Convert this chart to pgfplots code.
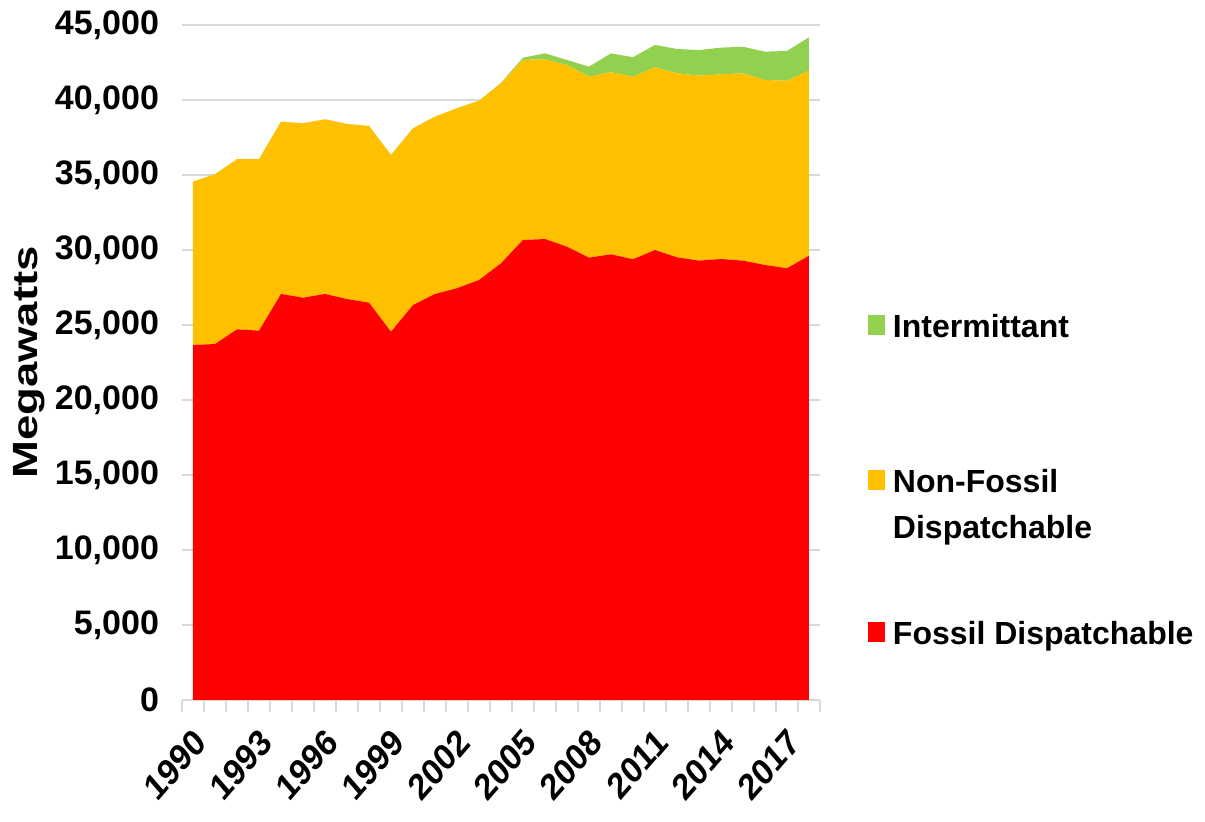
\documentclass[border=0pt]{standalone}
\usepackage{pgfplots}
\pgfplotsset{compat=1.18}
\usepackage{pgfplotstable}
\usepackage{graphicx}
\usepackage{fontspec}
\setmainfont{Liberation Sans}

\definecolor{fossil}{HTML}{FF0000}
\definecolor{nonfossil}{HTML}{FFC000}
\definecolor{intermit}{HTML}{92D050}
\definecolor{gridgray}{HTML}{D9D9D9}

% Installed capacity by resource type, MW
\pgfplotstableread{
year fossil nonfossil intermittent
1990 23670 10880 0
1991 23730 11320 0
1992 24710 11340 0
1993 24620 11430 0
1994 27070 11480 0
1995 26820 11630 0
1996 27070 11640 0
1997 26730 11670 0
1998 26490 11780 0
1999 24550 11780 0
2000 26330 11780 0
2001 27070 11820 0
2002 27450 12000 0
2003 28000 11950 0
2004 29110 12000 30
2005 30670 12000 150
2006 30730 11980 400
2007 30220 12110 340
2008 29490 12060 670
2009 29710 12140 1260
2010 29380 12170 1300
2011 30000 12180 1490
2012 29510 12270 1620
2013 29290 12330 1710
2014 29400 12310 1780
2015 29290 12490 1770
2016 29000 12330 1890
2017 28780 12510 1980
2018 29620 12330 2230
}\capacity

% frame shared by the main axis and the key boxes
\pgfplotsset{
  frame/.style={at={(0pt,0pt)}, anchor=south west,
    scale only axis, width=319pt, height=337.5pt},
  keybox/.style={frame, hide axis, xmin=0, xmax=1, ymin=0, ymax=1,
    legend image code/.code={\fill[##1] (0pt,-4.5pt) rectangle (8.5pt,5.5pt);},
    legend style={draw=none, fill=none, inner sep=0pt, outer sep=0pt,
      anchor=north west, row sep=11.3pt, column sep=4pt,
      font=\bfseries\fontsize{16}{19}\selectfont,
      cells={anchor=west},
      nodes={inner sep=0pt, text height=11.5pt, text depth=0pt}}},
}

\begin{document}
\begin{tikzpicture}
\useasboundingbox (-91pt,-61pt) rectangle (511.5pt,350pt);
\begin{axis}[
  frame,
  xmin=1989.5, xmax=2018.5, ymin=0, ymax=45000,
  stack plots=y,
  axis x line*=bottom, axis y line*=left,
  x axis line style={gridgray, line width=1pt},
  y axis line style={draw=none},
  xtick={1990,1993,...,2017},
  xticklabels={1990,1993,1996,1999,2002,2005,2008,2011,2014,2017},
  minor xtick={1989.5,1990.5,...,2018.5},
  tick align=outside, major tick length=0pt, minor tick length=6pt,
  minor tick style={gridgray, line width=1pt},
  ytick={0,5000,...,45000}, scaled y ticks=false,
  ymajorgrids, major grid style={gridgray, line width=1pt},
  /pgf/number format/1000 sep={,},
  /pgf/number format/assume math mode=true,
  tick label style={font=\bfseries\fontsize{17}{20}\selectfont, black},
  yticklabel style={xshift=-8pt},
  xticklabel style={xshift=6pt, yshift=-15pt, yscale=1.15, rotate=45, anchor=east,
    font=\bfseries\fontsize{16}{19}\selectfont},
  ylabel={\scalebox{1.3}[1]{Megawatts}},
  y label style={at={(axis description cs:-0.2398,0.5)}, anchor=center,
    font=\bfseries\fontsize{17.5}{20}\selectfont},
]
\addplot[fill=fossil, draw=none] table[x=year, y=fossil] {\capacity} \closedcycle;
\addplot[fill=nonfossil, draw=none] table[x=year, y=nonfossil] {\capacity} \closedcycle;
\addplot[fill=intermit, draw=none] table[x=year, y=intermittent] {\capacity} \closedcycle;
\end{axis}

% key entries, one box each
\begin{axis}[keybox, legend style={at={(axis description cs:1.0752,0.5707)}}]
\addlegendimage{fill=intermit, draw=none}
\addlegendentry{Intermittant}
\end{axis}
\begin{axis}[keybox, legend style={at={(axis description cs:1.0752,0.3413)}}]
\addlegendimage{fill=nonfossil, draw=none}
\addlegendentry{Non-Fossil}
\addlegendimage{empty legend}
\addlegendentry{Dispatchable}
\end{axis}
\begin{axis}[keybox, legend style={at={(axis description cs:1.0752,0.1156)}}]
\addlegendimage{fill=fossil, draw=none}
\addlegendentry{Fossil Dispatchable}
\end{axis}
\end{tikzpicture}
\end{document}
